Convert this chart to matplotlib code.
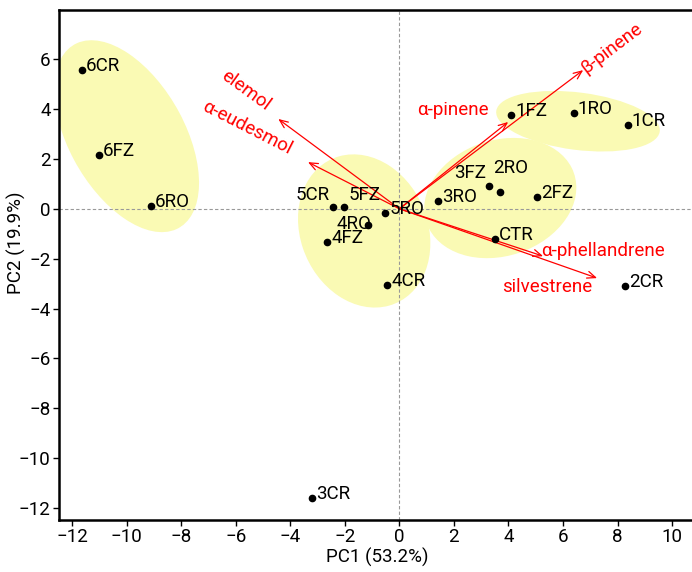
import numpy as np
import matplotlib
matplotlib.use("Agg")
import matplotlib.pyplot as plt
from matplotlib.patches import Ellipse

plt.rcParams['font.family'] = ['Roboto', 'DejaVu Sans']

# sample scores
samples = ['6CR', '6FZ', '6RO', '5CR', '5FZ', '5RO', '4CR', '4FZ', '4RO',
           '3CR', '3FZ', '3RO', '2CR', '2FZ', '2RO', '1CR', '1FZ', '1RO', 'CTR']
pc1 = [-11.64, -11.01, -9.11, -2.43, -2.03, -0.52, -0.45, -2.65, -1.15,
       -3.20, 3.29, 1.42, 8.28, 5.05, 3.69, 8.37, 4.10, 6.40, 3.51]
pc2 = [5.56, 2.15, 0.11, 0.07, 0.07, -0.17, -3.06, -1.34, -0.66,
       -11.60, 0.91, 0.31, -3.10, 0.47, 0.67, 3.36, 3.75, 3.83, -1.22]

# loadings (arrow tips)
variables = ['elemol', 'α-eudesmol', 'α-pinene', 'β-pinene', 'α-phellandrene', 'silvestrene']
load1 = [-4.44, -3.35, 3.99, 6.74, 5.27, 7.25]
load2 = [3.60, 1.87, 3.48, 5.56, -1.90, -2.78]

# group ellipses: center x, center y, width, height, angle
groups = ['6', '4/5', '2/3', '1']
ell_cx = [-10.0, -1.29, 3.70, 6.55]
ell_cy = [2.91, -0.89, 0.43, 3.51]
ell_w = [8.3, 6.26, 5.77, 6.05]
ell_h = [4.3, 4.7, 4.59, 2.3]
ell_ang = [-64, -73, 25, -8]

# label placement tweaks (pixels): dx, dy, ha
lab_off = {'5CR': (-3, 12, 'right'), '5FZ': (5, 12, 'left'),
           '4RO': (-14, 1, 'center'), '3FZ': (-3, 13, 'right'),
           '2RO': (11, 24, 'center')}
var_lab = {'elemol': (-5.65, 4.76, -36), 'α-eudesmol': (-5.58, 3.24, -27),
           'α-pinene': (1.97, 3.96, 0), 'β-pinene': (7.79, 6.44, 37),
           'α-phellandrene': (7.45, -1.70, 0), 'silvestrene': (5.44, -3.14, 0)}

fs = 13.5
fig = plt.figure(figsize=(6.92, 5.72), dpi=100)
ax = fig.add_axes([59/692, 52/572, 636/692, 510/572])

for cx, cy, w, h, a in zip(ell_cx, ell_cy, ell_w, ell_h, ell_ang):
    ax.add_patch(Ellipse((cx, cy), w, h, angle=a, facecolor='#fafab4',
                         edgecolor='none', zorder=1))

ax.axhline(0, color='#999999', lw=0.8, ls=(0, (3, 2)), zorder=2)
ax.axvline(0, color='#999999', lw=0.8, ls=(0, (3, 2)), zorder=2)

for v, x, y in zip(variables, load1, load2):
    ax.annotate('', xy=(x, y), xytext=(0, 0),
                arrowprops=dict(arrowstyle='->,head_length=0.6,head_width=0.25',
                                color='red', lw=0.9, shrinkA=0, shrinkB=0),
                zorder=3)
    tx, ty, rot = var_lab[v]
    ax.text(tx, ty, v, color='red', fontsize=fs, rotation=rot,
            ha='center', va='center', rotation_mode='anchor', zorder=4)

ax.plot(pc1, pc2, 'o', color='black', ms=4.5, zorder=5)
for s, x, y in zip(samples, pc1, pc2):
    dx, dy, ha = lab_off.get(s, (4, 4, 'left'))
    ax.annotate(s, (x, y), xytext=(dx * 0.72, dy * 0.72), textcoords='offset points',
                ha=ha, va='center', fontsize=fs, color='black', zorder=6)

ax.set_xlim(-12.48, 10.84)
ax.set_ylim(-12.48, 7.97)
ax.set_xticks(np.arange(-12, 11, 2))
ax.set_yticks(np.arange(-12, 7, 2))
ax.tick_params(labelsize=fs, length=4, width=1, pad=2)
for sp in ['left', 'bottom', 'top']:
    ax.spines[sp].set_linewidth(1.8)
ax.spines['right'].set_visible(False)
ax.set_xlabel('PC1 (53.2%)', fontsize=fs, labelpad=1)
ax.set_ylabel('PC2 (19.9%)', fontsize=fs)
ax.yaxis.set_label_coords(-0.052, 0.543)

fig.savefig('out.png', dpi=100)
